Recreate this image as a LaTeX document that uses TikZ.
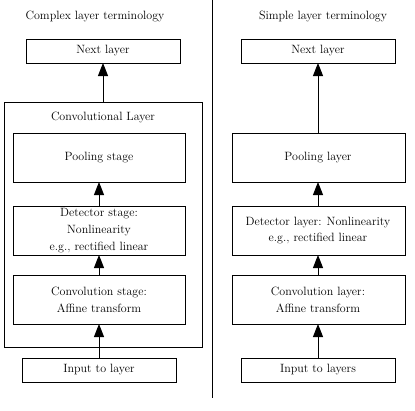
\documentclass[tikz,border=0pt]{standalone}
\usetikzlibrary{arrows.meta}
\begin{document}
\begin{tikzpicture}[x=1pt,y=-1pt,
  box/.style={draw,line width=1pt},
  txt/.style={font=\fontsize{12}{16.7}\selectfont,align=center},
  arr/.style={line width=1pt,-{Triangle[length=13pt,width=10pt]}}]
\useasboundingbox (0,0) rectangle (415,410);
% left
\node[txt] (t1) at (95,17) {Complex layer terminology};
\draw[box] (26,39) rectangle (180,63);
\node[txt] (n1) at (103,51) {Next layer};
\coordinate (n1b) at (103,63);
\draw[box] (4,102) rectangle (202,347);
\coordinate (cl) at (103,102);
\node[txt] (clt) at (103,117) {Convolutional Layer};
\draw[box] (13,133) rectangle (185,182);
\node[txt] (p1) at (99,157.5) {Pooling stage};
\draw[box] (13,206) rectangle (185,255);
\node[txt] (d1) at (99,230.5) {Detector stage:\\Nonlinearity\\e.g., rectified linear};
\draw[box] (13,275) rectangle (185,324);
\node[txt] (c1) at (99,299.5) {Convolution stage:\\Affine transform};
\draw[box] (22,358) rectangle (176,382);
\node[txt] (i1) at (99,370) {Input to layer};
\draw[arr] (cl) -- (n1b);
\draw[arr] (99,206) -- (99,182);
\draw[arr] (99,275) -- (99,255);
\draw[arr] (99,358) -- (99,324);
% divider
\draw[line width=1pt] (212,0) -- (212,398);
% right
\node[txt] (t2) at (323,17) {Simple layer terminology};
\draw[box] (241,39) rectangle (395,63);
\node[txt] (n2) at (318,51) {Next layer};
\draw[box] (232,133) rectangle (405,182);
\node[txt] (p2) at (318,157.5) {Pooling layer};
\draw[box] (232,206) rectangle (405,255);
\node[txt] (d2) at (318,230.5) {Detector layer: Nonlinearity\\e.g., rectified linear};
\draw[box] (232,275) rectangle (405,324);
\node[txt] (c2) at (318,299.5) {Convolution layer:\\Affine transform};
\draw[box] (241,358) rectangle (395,382);
\node[txt] (i2) at (318,370) {Input to layers};
\draw[arr] (318,133) -- (318,63);
\draw[arr] (318,206) -- (318,182);
\draw[arr] (318,275) -- (318,255);
\draw[arr] (318,358) -- (318,324);
\end{tikzpicture}
\end{document}
